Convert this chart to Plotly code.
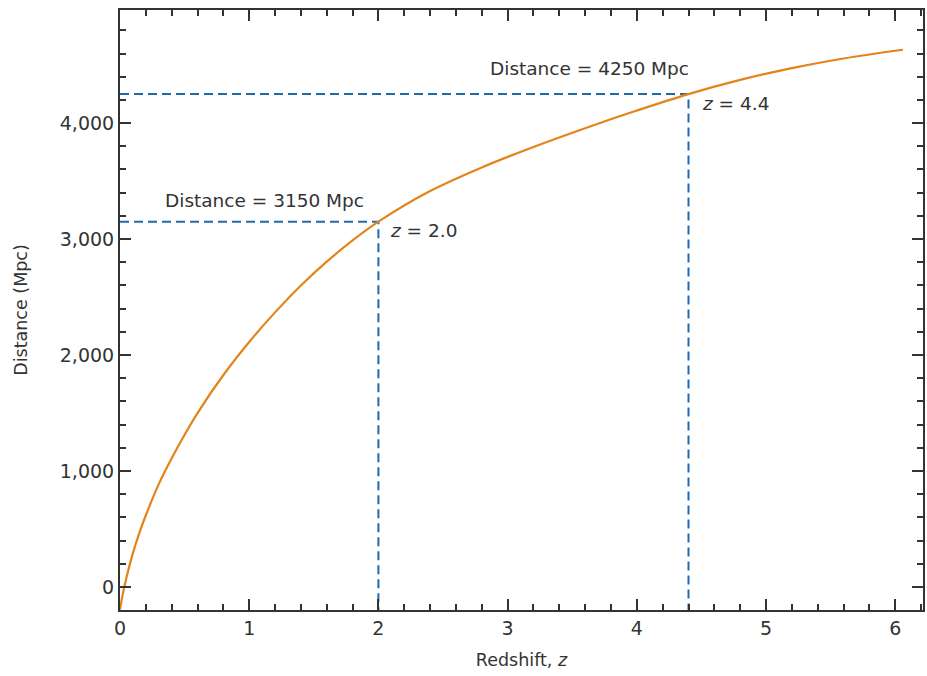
import plotly.graph_objects as go

# Curve data
redshift = [0, 0.02, 0.05, 0.1, 0.15, 0.2, 0.3, 0.4, 0.5, 0.6, 0.8, 1.0, 1.2, 1.4,
            1.6, 1.8, 2.0, 2.4, 2.8, 3.2, 3.6, 4.0, 4.4, 4.8, 5.2, 5.6, 6.06]
distance = [-195, -70, 82, 292, 467, 619, 887, 1110, 1313, 1500, 1828, 2113, 2368, 2599,
            2805, 2988, 3150, 3414, 3618, 3794, 3956, 4108, 4250, 4372, 4474, 4557, 4632]

# Marked points
mark_z = [2.0, 4.4]
mark_d = [3150, 4250]
mark_dist_labels = ["Distance = 3150 Mpc", "Distance = 4250 Mpc"]
mark_z_labels = ["<i>z</i> = 2.0", "<i>z</i> = 4.4"]

x_ticks = [0, 1, 2, 3, 4, 5, 6]
y_ticks = [0, 1000, 2000, 3000, 4000]
x_range = [0, 6.215]
y_range = [-198, 4975]

FONT = "'DejaVu Sans', sans-serif"
TXT = "#333333"
BLUE = "#1f69ad"
ORANGE = "#e3841a"

fig = go.Figure()

for zv, dv in zip(mark_z, mark_d):
    fig.add_trace(go.Scatter(
        x=[x_range[0], zv, zv], y=[dv, dv, y_range[0]],
        mode="lines", line=dict(color=BLUE, width=2, dash="9px,5px"),
        hoverinfo="skip", showlegend=False))

fig.add_trace(go.Scatter(
    x=redshift, y=distance, mode="lines",
    line=dict(color=ORANGE, width=2.2, shape="spline", smoothing=1.0),
    showlegend=False))

# annotation placement
dist_label_pos = [(0.333, 3333), (2.85, 4470)]
z_label_pos = [(2.074, 3075), (4.49, 4169)]
for (ax_, ay_), t in zip(dist_label_pos, mark_dist_labels):
    fig.add_annotation(x=ax_, y=ay_, text=t, showarrow=False, xanchor="left",
                       yanchor="middle", font=dict(family=FONT, size=18.5, color=TXT))
for (ax_, ay_), t in zip(z_label_pos, mark_z_labels):
    fig.add_annotation(x=ax_, y=ay_, text=t, showarrow=False, xanchor="left",
                       yanchor="middle", font=dict(family=FONT, size=18.5, color=TXT))

axis_common = dict(
    showline=True, linewidth=2, linecolor="#333333", mirror="ticks",
    ticks="inside", ticklen=11, tickwidth=2, tickcolor="#333333",
    showgrid=False, zeroline=False,
    tickfont=dict(family=FONT, size=19, color=TXT),
)

fig.update_xaxes(
    range=x_range, tickvals=x_ticks,
    minor=dict(ticks="inside", ticklen=6, tickwidth=1.5, tickcolor="#333333", dtick=0.2, tick0=0),
    title=dict(text="Redshift, <i>z</i>", font=dict(family=FONT, size=17.5, color=TXT), standoff=16),
    **axis_common)
fig.update_yaxes(
    range=y_range, tickvals=y_ticks, tickformat=",",
    minor=dict(ticks="inside", ticklen=6, tickwidth=1.5, tickcolor="#333333", dtick=200, tick0=0),
    title=dict(text="Distance (Mpc)", font=dict(family=FONT, size=17.5, color=TXT), standoff=28),
    **axis_common)

fig.update_layout(
    width=927, height=676,
    margin=dict(l=120, r=2, t=10, b=66),
    plot_bgcolor="white", paper_bgcolor="white",
    font=dict(family=FONT, color=TXT),
)

fig.write_html("out.html", config={"displayModeBar": False},
               post_script="document.body.style.margin='0';document.body.style.overflow='hidden';")
